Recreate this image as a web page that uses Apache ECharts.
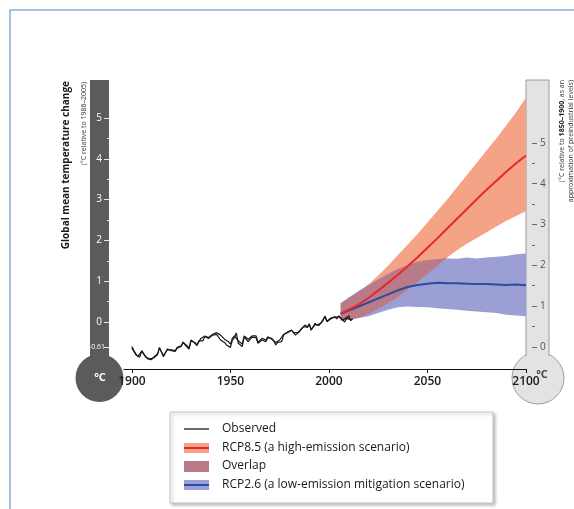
<!DOCTYPE html>
<html>
<head>
<meta charset="utf-8">
<script src="https://cdn.jsdelivr.net/npm/echarts@6/dist/echarts.min.js"></script>
<style>html,body{margin:0;padding:0;background:#fff}#c{width:574px;height:509px}</style>
</head>
<body>
<div id="c"></div>
<script>
// ---------- data (°C relative to 1986–2005) ----------
const obsYears = [
 1900,1901,1902,1903,1904,1905,1906,1907,1908,1909,
 1910,1911,1912,1913,1914,1915,1916,1917,1918,1919,
 1920,1921,1922,1923,1924,1925,1926,1927,1928,1929,
 1930,1931,1932,1933,1934,1935,1936,1937,1938,1939,
 1940,1941,1942,1943,1944,1945,1946,1947,1948,1949,
 1950,1951,1952,1953,1954,1955,1956,1957,1958,1959,
 1960,1961,1962,1963,1964,1965,1966,1967,1968,1969,
 1970,1971,1972,1973,1974,1975,1976,1977,1978,1979,
 1980,1981,1982,1983,1984,1985,1986,1987,1988,1989,
 1990,1991,1992,1993,1994,1995,1996,1997,1998,1999,
 2000,2001,2002,2003,2004,2005,2006,2007,2008,2009,
 2010,2011,2012];
const observedA = [
 -0.64,-0.72,-0.80,-0.82,-0.86,-0.70,-0.74,-0.86,-0.89,-0.90,
 -0.91,-0.88,-0.85,-0.80,-0.62,-0.66,-0.85,-0.86,-0.66,-0.68,
 -0.70,-0.68,-0.72,-0.62,-0.66,-0.58,-0.49,-0.56,-0.59,-0.66,
 -0.44,-0.46,-0.52,-0.58,-0.46,-0.42,-0.46,-0.36,-0.36,-0.40,
 -0.37,-0.32,-0.34,-0.30,-0.26,-0.44,-0.40,-0.50,-0.56,-0.54,
 -0.62,-0.44,-0.38,-0.27,-0.52,-0.56,-0.60,-0.36,-0.34,-0.48,
 -0.44,-0.37,-0.40,-0.38,-0.52,-0.50,-0.44,-0.42,-0.48,-0.38,
 -0.42,-0.40,-0.46,-0.56,-0.50,-0.46,-0.48,-0.32,-0.36,-0.24,
 -0.26,-0.20,-0.24,-0.32,-0.28,-0.24,-0.16,-0.12,-0.07,-0.14,
 -0.06,-0.20,-0.16,-0.03,-0.08,-0.11,-0.02,0.06,0.13,0.01,
 0.02,0.08,0.09,0.12,0.10,0.13,0.12,0.05,0.02,0.11,
 0.14,0.05,0.08];
const observedB = [
 -0.60,-0.70,-0.78,-0.84,-0.84,-0.72,-0.76,-0.84,-0.90,-0.88,
 -0.92,-0.86,-0.83,-0.78,-0.64,-0.64,-0.82,-0.84,-0.68,-0.66,
 -0.68,-0.66,-0.70,-0.64,-0.64,-0.60,-0.50,-0.54,-0.58,-0.64,
 -0.46,-0.44,-0.50,-0.56,-0.48,-0.40,-0.44,-0.34,-0.34,-0.38,
 -0.34,-0.30,-0.30,-0.26,-0.24,-0.32,-0.34,-0.42,-0.46,-0.48,
 -0.54,-0.40,-0.34,-0.30,-0.46,-0.50,-0.54,-0.34,-0.30,-0.42,
 -0.40,-0.34,-0.36,-0.34,-0.50,-0.46,-0.40,-0.40,-0.44,-0.36,
 -0.40,-0.42,-0.44,-0.50,-0.48,-0.44,-0.46,-0.30,-0.34,-0.26,
 -0.24,-0.20,-0.26,-0.30,-0.26,-0.26,-0.18,-0.12,-0.08,-0.12,
 -0.04,-0.18,-0.18,-0.06,-0.10,-0.08,-0.04,0.04,0.15,0.02,
 0.01,0.10,0.12,0.13,0.08,0.15,0.10,0.08,0.00,0.10,
 0.16,0.04,0.07];

const projYears = [2006,2010,2015,2020,2025,2030,2035,2040,2045,2050,2055,2060,2065,2070,2075,2080,2085,2090,2095,2100];
const rcp85Mean  = [0.21,0.30,0.43,0.59,0.77,0.96,1.16,1.37,1.59,1.82,2.05,2.29,2.53,2.77,3.01,3.24,3.46,3.68,3.89,4.08];
const rcp85Upper = [0.46,0.58,0.74,0.92,1.14,1.38,1.64,1.90,2.16,2.44,2.72,3.00,3.30,3.60,3.90,4.20,4.50,4.82,5.14,5.50];
const rcp85Lower = [0.02,0.06,0.10,0.20,0.32,0.46,0.62,0.80,0.98,1.18,1.38,1.58,1.76,1.92,2.06,2.20,2.34,2.48,2.60,2.72];
const rcp26Mean  = [0.20,0.28,0.38,0.48,0.58,0.68,0.78,0.86,0.91,0.94,0.96,0.95,0.95,0.94,0.93,0.93,0.92,0.91,0.92,0.90];
const rcp26Upper = [0.46,0.60,0.76,0.90,1.04,1.18,1.30,1.40,1.48,1.52,1.54,1.56,1.55,1.58,1.56,1.58,1.60,1.62,1.66,1.68];
const rcp26Lower = [0.04,0.06,0.10,0.14,0.22,0.30,0.36,0.38,0.37,0.36,0.34,0.32,0.30,0.28,0.26,0.24,0.22,0.18,0.16,0.14];

const xTickYears = [1900,1950,2000,2050,2100];
const leftTicks  = [-0.61,0,1,2,3,4,5];
const leftMinor  = [0.5,1.5,2.5,3.5,4.5];
const rightTicks = [0,1,2,3,4,5];
const rightMinor = [0.5,1.5,2.5,3.5,4.5];
const baselineShift = 0.61; // 1986–2005 relative to 1850–1900

// ---------- derived ----------
const ovLower = [], ovUpper = [], ovYears = [];
for (let i = 0; i < projYears.length; i++) {
  const lo = Math.max(rcp85Lower[i], rcp26Lower[i]);
  const hi = Math.min(rcp85Upper[i], rcp26Upper[i]);
  if (hi > lo) { ovYears.push(projYears[i]); ovLower.push(lo); ovUpper.push(hi); }
  else { ovYears.push(projYears[i]); ovLower.push(lo); ovUpper.push(lo); break; }
}

const C = {
  salmon: '#f5a386', periwinkle: '#9c9fd4', mauve: '#b97b87',
  red: '#e8262b', blue: '#2c4c9e', dark: '#5b5b5b', light: '#e3e3e3'
};

function band(name, years, lo, hi, color, z) {
  return {
    type: 'custom', name, z, silent: true,
    data: [[years[0], lo[0]]],
    encode: { x: 0, y: 1 },
    renderItem: function (params, api) {
      const pts = [];
      for (let i = 0; i < years.length; i++) pts.push(api.coord([years[i], hi[i]]));
      for (let i = years.length - 1; i >= 0; i--) pts.push(api.coord([years[i], lo[i]]));
      return { type: 'polygon', shape: { points: pts }, style: { fill: color } };
    }
  };
}
function line(name, years, vals, color, width, z) {
  return {
    type: 'line', name, z, silent: true, symbol: 'none',
    data: years.map((y, i) => [y, vals[i]]),
    lineStyle: { color, width }
  };
}

const yMin = -1.15, yMax = 5.93;
const FF = "'Open Sans', 'Noto Sans', sans-serif";

const chart = echarts.init(document.getElementById('c'), null, { renderer: 'canvas' });
chart.setOption({
  animation: false,
  textStyle: { fontFamily: FF },
  grid: { left: 124, right: 48, top: 80, bottom: 140, containLabel: false },
  xAxis: {
    type: 'value', min: 1896, max: 2100,
    splitLine: { show: false },
    axisLine: { show: true, onZero: false, lineStyle: { color: '#111', width: 1.2 } },
    axisTick: { show: true, length: 4, customValues: xTickYears, lineStyle: { color: '#111' } },
    axisLabel: { customValues: xTickYears, color: '#1a1a1a', fontSize: 12, fontWeight: 600, margin: 7, fontFamily: FF,
      formatter: v => String(v) }
  },
  yAxis: [
    { type: 'value', min: yMin, max: yMax, show: false },
    { type: 'value', min: yMin, max: yMax, position: 'left', offset: 15,
      axisLine: { show: false }, splitLine: { show: false },
      axisTick: { show: true, length: 5, customValues: leftTicks, lineStyle: { color: '#e8e8e8', width: 1 } },
      axisLabel: { customValues: leftTicks, color: '#ffffff', fontSize: 10, margin: 4, fontFamily: FF,
        formatter: v => (Math.abs(v + 0.61) < 1e-6 ? '{s|-0.61}' : '{n|' + v + '}'),
        rich: { s: { fontSize: 7, color: '#ffffff', fontFamily: FF },
                n: { fontSize: 10, color: '#ffffff', fontFamily: FF, padding: [0, 3, 0, 0] } } } },
    { type: 'value', min: yMin, max: yMax, position: 'left', offset: 15,
      axisLine: { show: false }, splitLine: { show: false },
      axisTick: { show: true, length: 2, customValues: leftMinor, lineStyle: { color: '#e8e8e8', width: 1 } },
      axisLabel: { show: false } },
    { type: 'value', min: yMin + baselineShift, max: yMax + baselineShift, position: 'right', offset: 6,
      axisLine: { show: false }, splitLine: { show: false },
      axisTick: { show: true, length: 5, customValues: rightTicks, lineStyle: { color: '#666', width: 1 } },
      axisLabel: { customValues: rightTicks, color: '#555', fontSize: 10, margin: 8, fontFamily: FF } },
    { type: 'value', min: yMin + baselineShift, max: yMax + baselineShift, position: 'right', offset: 6,
      axisLine: { show: false }, splitLine: { show: false },
      axisTick: { show: true, length: 3, customValues: rightMinor, lineStyle: { color: '#666', width: 1 } },
      axisLabel: { show: false } }
  ],
  series: [
    band('RCP8.5 range', projYears, rcp85Lower, rcp85Upper, C.salmon, 1),
    band('RCP2.6 range', projYears, rcp26Lower, rcp26Upper, C.periwinkle, 2),
    band('Overlap', ovYears, ovLower, ovUpper, C.mauve, 3),
    line('RCP2.6', projYears, rcp26Mean, C.blue, 2, 4),
    line('RCP8.5', projYears, rcp85Mean, C.red, 2, 5),
    line('Observed A', obsYears, observedA, '#1a1a1a', 1.2, 6),
    line('Observed B', obsYears, observedB, '#1a1a1a', 1.2, 6)
  ],
  graphic: [
    // frame
    { type: 'polyline', z: -10, silent: true, shape: { points: [[10, 509], [10, 10], [574, 10]] },
      style: { stroke: '#8db0de', lineWidth: 1.6, fill: null } },
    // left thermometer
    { type: 'circle', z: -5, silent: true, shape: { cx: 99.5, cy: 378, r: 24 }, style: { fill: C.dark } },
    { type: 'rect', z: -5, silent: true, shape: { x: 90, y: 80, width: 19, height: 290 }, style: { fill: C.dark } },
    { type: 'text', z: 10, silent: true, style: { x: 100, y: 378, text: '°C', fill: '#fff', font: 'bold 11px ' + FF, align: 'center', verticalAlign: 'middle' } },
    // right thermometer
    { type: 'circle', z: -5, silent: true, shape: { cx: 538, cy: 378, r: 26 }, style: { fill: C.light, stroke: '#9c9c9c', lineWidth: 1 } },
    { type: 'rect', z: -5, silent: true, shape: { x: 526, y: 80, width: 23, height: 290 }, style: { fill: C.light } },
    { type: 'polyline', z: -5, silent: true, shape: { points: [[526, 356], [526, 80], [549, 80], [549, 356]] }, style: { stroke: '#9c9c9c', lineWidth: 1, fill: null } },
    { type: 'text', z: 10, silent: true, style: { x: 542, y: 375, text: '°C', fill: '#444', font: 'bold 11px ' + FF, align: 'center', verticalAlign: 'middle' } },
    // left titles
    { type: 'text', silent: true, x: 66, y: 81, rotation: Math.PI / 2,
      style: { x: 0, y: 0, text: 'Global mean temperature change', fill: '#1a1a1a', font: 'bold 10px ' + FF, align: 'right', verticalAlign: 'middle' } },
    { type: 'text', silent: true, x: 84, y: 82, rotation: Math.PI / 2,
      style: { x: 0, y: 0, text: '(°C relative to 1986–2005)', fill: '#333', font: '7px ' + FF, align: 'right', verticalAlign: 'middle' } },
    // right titles
    { type: 'text', silent: true, x: 562, y: 80, rotation: Math.PI / 2,
      style: { x: 0, y: 0, text: '{n|(°C relative to }{b|1850–1900}{n|, as an}', align: 'right', verticalAlign: 'middle',
        rich: { n: { fill: '#333', font: '7px ' + FF }, b: { fill: '#1a1a1a', font: 'bold 7px ' + FF } } } },
    { type: 'text', silent: true, x: 571, y: 80, rotation: Math.PI / 2,
      style: { x: 0, y: 0, text: 'approximation of preindustrial levels)', fill: '#333', font: '7px ' + FF, align: 'right', verticalAlign: 'middle' } },
    // legend
    { type: 'rect', silent: true, shape: { x: 170, y: 412, width: 323, height: 91 },
      style: { fill: '#fff', stroke: '#c4c4c4', lineWidth: 1, shadowBlur: 3, shadowColor: 'rgba(0,0,0,0.25)', shadowOffsetX: 2, shadowOffsetY: 2 } },
    { type: 'line', silent: true, shape: { x1: 184, y1: 429, x2: 209, y2: 429 }, style: { stroke: '#1a1a1a', lineWidth: 1.3 } },
    { type: 'rect', silent: true, shape: { x: 184, y: 443, width: 25, height: 10 }, style: { fill: C.salmon } },
    { type: 'line', silent: true, shape: { x1: 184, y1: 448, x2: 209, y2: 448 }, style: { stroke: C.red, lineWidth: 2 } },
    { type: 'rect', silent: true, shape: { x: 184, y: 461, width: 25, height: 11 }, style: { fill: C.mauve } },
    { type: 'rect', silent: true, shape: { x: 184, y: 480, width: 25, height: 10 }, style: { fill: C.periwinkle } },
    { type: 'line', silent: true, shape: { x1: 184, y1: 485, x2: 209, y2: 485 }, style: { stroke: C.blue, lineWidth: 2 } },
    { type: 'text', silent: true, style: { x: 222, y: 429, text: 'Observed', fill: '#1a1a1a', font: '12px ' + FF, verticalAlign: 'middle' } },
    { type: 'text', silent: true, style: { x: 222, y: 448, text: 'RCP8.5 (a high-emission scenario)', fill: '#1a1a1a', font: '12px ' + FF, verticalAlign: 'middle' } },
    { type: 'text', silent: true, style: { x: 222, y: 466, text: 'Overlap', fill: '#1a1a1a', font: '12px ' + FF, verticalAlign: 'middle' } },
    { type: 'text', silent: true, style: { x: 222, y: 485, text: 'RCP2.6 (a low-emission mitigation scenario)', fill: '#1a1a1a', font: '12px ' + FF, verticalAlign: 'middle' } }
  ]
});
</script>
</body>
</html>
